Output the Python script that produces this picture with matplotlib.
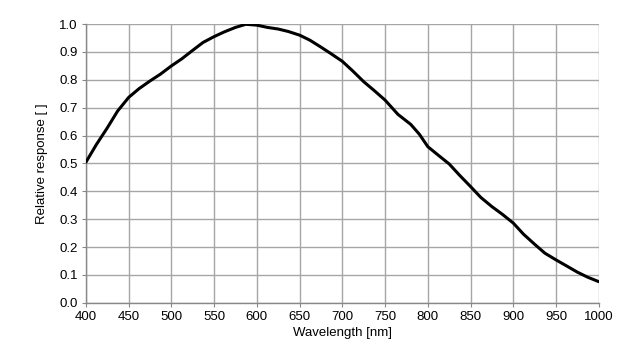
import matplotlib
matplotlib.use("Agg")
import matplotlib.pyplot as plt
import numpy as np

plt.rcParams['font.family'] = ['Liberation Sans', 'DejaVu Sans']

wavelength = [400, 412, 425, 437, 450, 462, 475, 487, 500, 512, 525, 537, 550, 562, 575, 587, 600,
              612, 625, 637, 650, 662, 675, 687, 700, 712, 725, 737, 750, 765, 780, 790, 800,
              812, 825, 837, 850, 862, 875, 887, 900, 912, 925, 937, 950, 962, 975, 987, 1000]
response = [0.505, 0.567, 0.628, 0.688, 0.737, 0.768, 0.796, 0.820, 0.850, 0.875, 0.906, 0.934, 0.955, 0.972, 0.988, 0.999, 0.996,
            0.988, 0.982, 0.973, 0.960, 0.942, 0.917, 0.893, 0.866, 0.832, 0.793, 0.762, 0.727, 0.676, 0.640, 0.605, 0.560,
            0.530, 0.498, 0.458, 0.417, 0.378, 0.345, 0.318, 0.286, 0.246, 0.210, 0.178, 0.154, 0.133, 0.110, 0.092, 0.076]

fig = plt.figure(figsize=(6.37, 3.64), dpi=100)
ax = fig.add_axes([0.135, 0.168, 0.805, 0.766])
ax.plot(wavelength, response, color='black', lw=2.2, solid_capstyle='round',
        solid_joinstyle='round', zorder=3)
ax.set_xlim(400, 1000)
ax.set_ylim(0, 1.0)
ax.set_xticks(np.arange(400, 1001, 50))
ax.set_yticks(np.arange(0, 1.01, 0.1))
ax.set_yticklabels([f"{v:.1f}" for v in np.arange(0, 1.01, 0.1)])
ax.grid(True, color='#a6a6a6', lw=1.0)
for s in ['top', 'right']:
    ax.spines[s].set_visible(False)
for s in ['left', 'bottom']:
    ax.spines[s].set_color('#888888')
    ax.spines[s].set_linewidth(1.0)
ax.tick_params(direction='out', length=3, color='#888888', labelsize=9.5, labelcolor='black', pad=3)
ax.set_xlabel('Wavelength [nm]', fontsize=9.5, labelpad=3)
ax.set_ylabel('Relative response [ ]', fontsize=9.5, labelpad=8)
fig.savefig('out.png', dpi=100)
